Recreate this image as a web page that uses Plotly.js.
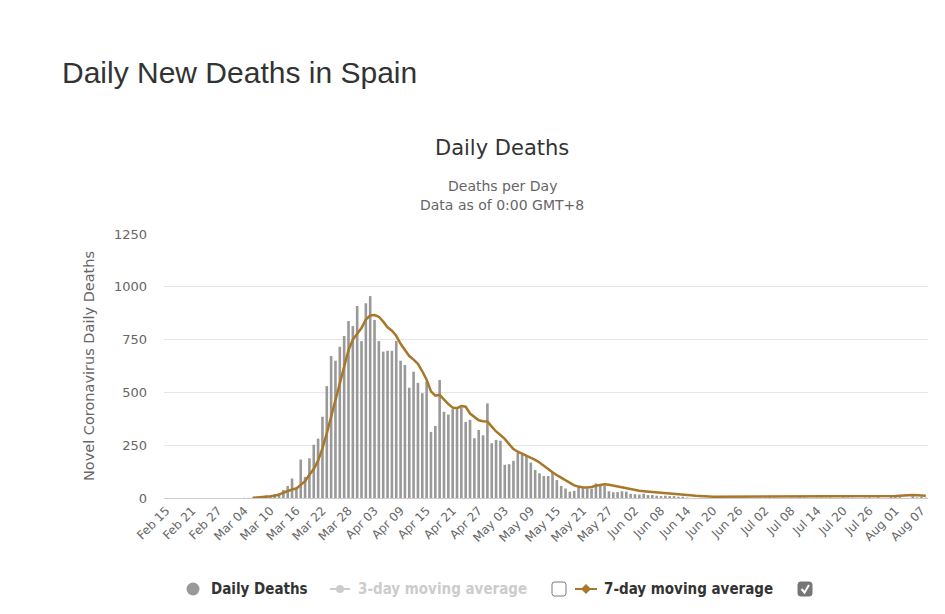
<!DOCTYPE html>
<html>
<head>
<meta charset="utf-8">
<script src="https://cdn.plot.ly/plotly-3.0.1.min.js"></script>
<style>
  html, body { margin: 0; padding: 0; background: #ffffff; }
  #chart { width: 945px; height: 614px; }
</style>
</head>
<body>
<div id="chart"></div>
<script>
// Day labels, Feb 15 .. Aug 08 (2020)
const MONTHS = ['Jan','Feb','Mar','Apr','May','Jun','Jul','Aug','Sep','Oct','Nov','Dec'];
const days = [];
for (let i = 0; i < 176; i++) {
  const d = new Date(Date.UTC(2020, 1, 15) + i * 86400000);
  days.push(MONTHS[d.getUTCMonth()] + ' ' + String(d.getUTCDate()).padStart(2, '0'));
}

// Labels shown on the category axis (every sixth day)
const tickLabels = ['Feb 15','Feb 21','Feb 27','Mar 04','Mar 10','Mar 16','Mar 22','Mar 28',
  'Apr 03','Apr 09','Apr 15','Apr 21','Apr 27','May 03','May 09','May 15','May 21','May 27',
  'Jun 02','Jun 08','Jun 14','Jun 20','Jun 26','Jul 02','Jul 08','Jul 14','Jul 20','Jul 26',
  'Aug 01','Aug 07'];

// Daily reported deaths
const dailyDeaths = [
  0,0,0,0,0,0,0,0,0,0,
  0,0,0,0,0,0,0,0,1,1,
  3,2,7,11,7,19,22,38,57,92,
  50,182,100,188,252,281,385,530,672,650,
  716,767,838,814,909,743,922,956,843,743,
  693,697,697,743,650,630,522,598,545,496,
  550,313,341,559,408,395,421,421,428,360,
  370,283,322,297,448,259,275,271,157,160,
  176,213,205,202,168,133,117,104,104,121,
  85,57,45,30,34,57,46,44,44,69,
  66,57,32,27,28,32,30,20,18,16,
  20,14,14,11,9,11,9,9,6,6,
  2,0,0,1,0,0,2,3,1,0,
  0,2,1,3,2,0,0,1,2,4,
  3,1,0,0,2,1,3,2,0,0,
  1,2,1,2,0,0,3,2,1,0,
  0,2,3,1,4,0,0,5,6,4,
  0,0,8,3,5,2
];

// 7-day moving average of deaths
const movingAvg7 = [
  null,null,null,null,null,null,null,null,null,null,
  null,null,null,null,null,null,null,null,null,null,
  1,2,3,5,8,11,16,25,34,40,
  45,63,80,110,137,177,235,306,385,470,
  550,630,700,750,775,805,845,864,866,858,
  835,808,792,768,730,700,672,655,635,600,
  560,505,485,488,465,445,428,425,435,432,
  400,385,368,363,362,338,315,298,280,255,
  232,219,210,200,190,180,168,152,135,122,
  108,95,83,72,60,54,50,50,52,58,
  63,65,63,59,55,50,45,40,36,34,
  32,30,28,26,24,22,20,18,17,15,
  14,13,11,10,8,7,6,6,6,6,
  6,6,6,7,7,8,8,9,9,9,
  8,8,7,7,7,6,6,6,6,6,
  6,7,7,7,6,6,6,6,6,6,
  6,7,7,7,7,6,6,6,9,11,
  13,14,14,13,12,11
];

const yTicks = [0, 250, 500, 750, 1000, 1250];

const BAR_GRAY = '#999999';
const AVG_BROWN = '#a8772a';
const TEXT_DARK = '#333333';
const TEXT_MID = '#666666';
const MUTED = '#cccccc';
const CHART_FONT = 'DejaVu Sans, Verdana, sans-serif';

// Plot-area frame in pixels, used to place legend pieces in paper units
const L = 164, R = 928, T = 234, B = 498;
const fx = p => (p - L) / (R - L);
const fy = p => (B - p) / (B - T);

function roundRect(x0, y0, x1, y1, r) {
  const P = (x, y) => fx(x) + ',' + fy(y);
  return 'M' + P(x0 + r, y0) + ' L' + P(x1 - r, y0) + ' Q' + P(x1, y0) + ' ' + P(x1, y0 + r) +
    ' L' + P(x1, y1 - r) + ' Q' + P(x1, y1) + ' ' + P(x1 - r, y1) +
    ' L' + P(x0 + r, y1) + ' Q' + P(x0, y1) + ' ' + P(x0, y1 - r) +
    ' L' + P(x0, y0 + r) + ' Q' + P(x0, y0) + ' ' + P(x0 + r, y0) + ' Z';
}

const legendY = 589;
const legendFont = { family: 'DejaVu Sans Condensed, DejaVu Sans, sans-serif', size: 15 };

const traces = [
  {
    type: 'bar',
    name: 'Daily Deaths',
    x: days,
    y: dailyDeaths,
    marker: { color: BAR_GRAY },
    hoverinfo: 'x+y'
  },
  {
    type: 'scatter',
    mode: 'lines',
    name: '7-day moving average',
    x: days,
    y: movingAvg7,
    line: { color: AVG_BROWN, width: 2.5 },
    connectgaps: false
  }
];

const shapes = [
  // Daily Deaths marker
  { type: 'circle', xref: 'paper', yref: 'paper',
    x0: fx(186.5), x1: fx(199.5), y0: fy(legendY + 6.5), y1: fy(legendY - 6.5),
    fillcolor: BAR_GRAY, line: { width: 0 } },
  // 3-day moving average marker (series hidden)
  { type: 'line', xref: 'paper', yref: 'paper',
    x0: fx(330), x1: fx(350), y0: fy(legendY), y1: fy(legendY),
    line: { color: MUTED, width: 2 } },
  { type: 'circle', xref: 'paper', yref: 'paper',
    x0: fx(336), x1: fx(344), y0: fy(legendY + 4), y1: fy(legendY - 4),
    fillcolor: MUTED, line: { width: 0 } },
  // unchecked box
  { type: 'path', xref: 'paper', yref: 'paper',
    path: roundRect(552, legendY - 7, 566, legendY + 7, 2.5),
    fillcolor: '#ffffff', line: { color: '#767676', width: 1 } },
  // 7-day moving average marker
  { type: 'line', xref: 'paper', yref: 'paper',
    x0: fx(575), x1: fx(597), y0: fy(legendY), y1: fy(legendY),
    line: { color: AVG_BROWN, width: 2 } },
  { type: 'path', xref: 'paper', yref: 'paper',
    path: 'M' + fx(586) + ',' + fy(legendY - 5) + ' L' + fx(591) + ',' + fy(legendY) +
          ' L' + fx(586) + ',' + fy(legendY + 5) + ' L' + fx(581) + ',' + fy(legendY) + ' Z',
    fillcolor: AVG_BROWN, line: { width: 0 } },
  // checked box
  { type: 'path', xref: 'paper', yref: 'paper',
    path: roundRect(798, legendY - 7, 812, legendY + 7, 2.5),
    fillcolor: '#767676', line: { color: '#767676', width: 1 } },
  { type: 'path', xref: 'paper', yref: 'paper',
    path: 'M' + fx(801.5) + ',' + fy(legendY) + ' L' + fx(804.5) + ',' + fy(legendY + 3.5) +
          ' L' + fx(809) + ',' + fy(legendY - 4),
    line: { color: '#ffffff', width: 2 } }
];

const annotations = [
  { text: 'Daily Deaths', xref: 'paper', yref: 'paper', x: fx(502), y: fy(148),
    xanchor: 'center', yanchor: 'middle', showarrow: false,
    font: { family: CHART_FONT, size: 21, color: TEXT_DARK } },
  { text: 'Deaths per Day', xref: 'paper', yref: 'paper', x: fx(502), y: fy(186),
    xanchor: 'center', yanchor: 'middle', showarrow: false,
    font: { family: CHART_FONT, size: 14, color: TEXT_MID } },
  { text: 'Data as of 0:00 GMT+8', xref: 'paper', yref: 'paper', x: fx(502), y: fy(205),
    xanchor: 'center', yanchor: 'middle', showarrow: false,
    font: { family: CHART_FONT, size: 14, color: TEXT_MID } },
  // legend labels
  { text: '<b>Daily Deaths</b>', xref: 'paper', yref: 'paper', x: fx(209), y: fy(legendY),
    xanchor: 'left', yanchor: 'middle', showarrow: false,
    font: Object.assign({ color: TEXT_DARK }, legendFont) },
  { text: '<b>3-day moving average</b>', xref: 'paper', yref: 'paper', x: fx(356), y: fy(legendY),
    xanchor: 'left', yanchor: 'middle', showarrow: false,
    font: Object.assign({ color: MUTED }, legendFont) },
  { text: '<b>7-day moving average</b>', xref: 'paper', yref: 'paper', x: fx(602), y: fy(legendY),
    xanchor: 'left', yanchor: 'middle', showarrow: false,
    font: Object.assign({ color: TEXT_DARK }, legendFont) }
];

const layout = {
  width: 945,
  height: 614,
  margin: { l: L, r: 945 - R, t: T, b: 614 - B, pad: 0 },
  paper_bgcolor: '#ffffff',
  plot_bgcolor: '#ffffff',
  showlegend: false,
  bargap: 0.4,
  font: { family: CHART_FONT, color: TEXT_MID },
  title: {
    text: 'Daily New Deaths in Spain',
    font: { family: 'Liberation Sans, Arial, sans-serif', size: 30, color: TEXT_DARK },
    xref: 'container', yref: 'container',
    x: 62 / 945, xanchor: 'left',
    y: 1 - 72 / 614, yanchor: 'middle'
  },
  xaxis: {
    type: 'category',
    range: [-0.5, days.length - 0.5],
    tickmode: 'array',
    tickvals: tickLabels,
    ticktext: tickLabels,
    tickangle: -45,
    tickfont: { family: CHART_FONT, size: 12, color: TEXT_MID },
    showgrid: false,
    showline: true,
    linecolor: '#cccccc',
    linewidth: 1,
    ticks: '',
    automargin: false,
    fixedrange: true
  },
  yaxis: {
    range: [0, 1250],
    tickmode: 'array',
    tickvals: yTicks,
    ticktext: yTicks.map(String),
    tickfont: { family: CHART_FONT, size: 13, color: TEXT_MID },
    ticklabelstandoff: 16,
    gridcolor: '#e6e6e6',
    gridwidth: 1,
    zeroline: false,
    showline: false,
    ticks: '',
    automargin: false,
    fixedrange: true,
    title: {
      text: 'Novel Coronavirus Daily Deaths',
      font: { family: CHART_FONT, size: 14.5, color: TEXT_MID },
      standoff: 15
    }
  },
  shapes: shapes,
  annotations: annotations
};

Plotly.newPlot('chart', traces, layout, { staticPlot: true, displayModeBar: false });
</script>
</body>
</html>
